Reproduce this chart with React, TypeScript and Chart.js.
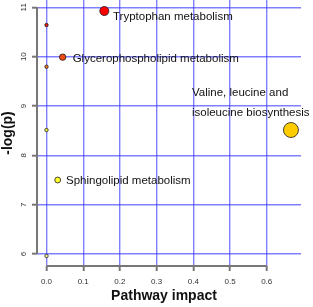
import React, { useEffect, useRef } from "react";
import { Chart, registerables } from "chart.js";

Chart.register(...registerables);

// Data
const impact = [0.1575, 0, 0.044, 0, 0, 0.666, 0.0305, 0];
const logP = [10.925, 10.64, 9.99, 9.796, 8.513, 8.513, 7.5, 5.96];
const pathwayNames = [
  "Tryptophan metabolism",
  "",
  "Glycerophospholipid metabolism",
  "",
  "",
  "Valine, leucine and\nisoleucine biosynthesis",
  "Sphingolipid metabolism",
  "",
];
const xTickValues = [0, 0.1, 0.2, 0.3, 0.4, 0.5, 0.6];
const yTickValues = [6, 7, 8, 9, 10, 11];
const xTitle = "Pathway impact";
const yTitle = "-log(p)";

// Styles
const fillColors = ["#FF0000", "#F21C0E", "#F04A12", "#EE7A1E", "#FFFF3C", "#FFCC00", "#FFFF30", "#FFFFA8"];
const labelOffsets: (number[] | null)[] = [[8.7, 8.5], null, [10, 5], null, null, [-99, -34.3], [8.3, 4.3], null];
const FONT = "'Liberation Sans', Arial, sans-serif";

const decorPlugin = {
  id: "decor",
  beforeDatasetsDraw(chart: any) {
    const { ctx, chartArea, scales } = chart;
    const x = scales.x;
    const y = scales.y;
    ctx.save();
    ctx.strokeStyle = "#777777";
    ctx.lineWidth = 2;
    ctx.beginPath();
    ctx.moveTo(chartArea.left, y.getPixelForValue(yTickValues[0]));
    ctx.lineTo(chartArea.left, y.getPixelForValue(yTickValues[yTickValues.length - 1]));
    ctx.moveTo(x.getPixelForValue(xTickValues[0]), chartArea.bottom);
    ctx.lineTo(x.getPixelForValue(xTickValues[xTickValues.length - 1]), chartArea.bottom);
    ctx.stroke();
    // x axis title
    ctx.fillStyle = "#111111";
    ctx.font = `bold 14px ${FONT}`;
    ctx.textAlign = "center";
    ctx.textBaseline = "middle";
    ctx.fillText(xTitle, (chartArea.left + chartArea.right) / 2 - 5, 296);
    ctx.restore();
  },
  afterDatasetsDraw(chart: any) {
    const { ctx, scales } = chart;
    ctx.save();
    ctx.fillStyle = "#111111";
    ctx.font = `11.5px ${FONT}`;
    ctx.textAlign = "left";
    ctx.textBaseline = "alphabetic";
    pathwayNames.forEach((name, i) => {
      const off = labelOffsets[i];
      if (!name || !off) return;
      const px = scales.x.getPixelForValue(impact[i]);
      const py = scales.y.getPixelForValue(logP[i]);
      name.split("\n").forEach((line, k) => {
        ctx.fillText(line, px + off[0], py + off[1] + k * 20.6);
      });
    });
    ctx.restore();
  },
};

export default function App() {
  const ref = useRef<HTMLCanvasElement>(null);
  useEffect(() => {
    if (!ref.current) return;
    const chart = new Chart(ref.current, {
      type: "scatter",
      data: {
        datasets: [
          {
            data: impact.map((v, i) => ({ x: v, y: logP[i] })),
            pointRadius: impact.map((v) => 1.7 + 7.1 * Math.sqrt(v)),
            pointBackgroundColor: fillColors,
            pointBorderColor: "#1a1a1a",
            pointBorderWidth: 0.8,
            clip: false,
          },
        ],
      },
      options: {
        responsive: false,
        animation: false,
        layout: { autoPadding: false, padding: { top: 0, right: 12, left: 0, bottom: 0 } },
        plugins: { legend: { display: false }, tooltip: { enabled: false } },
        scales: {
          x: {
            type: "linear",
            min: -0.0259,
            max: 0.6934,
            afterBuildTicks: (s: any) => {
              s.ticks = xTickValues.map((v) => ({ value: v }));
            },
            afterFit: (s: any) => {
              s.height = 41;
              s.paddingLeft = 0;
              s.paddingRight = 0;
            },
            grid: {
              color: "rgba(60,60,255,0.65)",
              lineWidth: 1.4,
              drawTicks: true,
              tickLength: 5,
              tickColor: "#777777",
              tickWidth: 2,
            },
            border: { display: false },
            ticks: {
              autoSkip: false,
              maxRotation: 0,
              padding: 6,
              color: "#333333",
              font: { family: FONT, size: 8 },
              callback: (v: any) => Number(v).toFixed(1),
            },
            title: { display: false },
          },
          y: {
            type: "linear",
            min: 5.757,
            max: 11.148,
            afterBuildTicks: (s: any) => {
              s.ticks = yTickValues.map((v) => ({ value: v }));
            },
            afterFit: (s: any) => {
              s.width = 37;
              s.paddingTop = 0;
              s.paddingBottom = 0;
            },
            grid: {
              color: "rgba(60,60,255,0.65)",
              lineWidth: 1.4,
              drawTicks: true,
              tickLength: 5,
              tickColor: "#777777",
              tickWidth: 2,
            },
            border: { display: false },
            ticks: {
              autoSkip: false,
              minRotation: 90,
              maxRotation: 90,
              crossAlign: "center",
              padding: 3.5,
              color: "#333333",
              font: { family: FONT, size: 8 },
              callback: (v: any) => String(v),
            },
            title: {
              display: true,
              text: yTitle,
              color: "#111111",
              font: { family: FONT, size: 14, weight: "bold" },
              padding: { top: 0, bottom: 0 },
            },
          },
        },
      },
      plugins: [decorPlugin],
    } as any);
    return () => chart.destroy();
  }, []);
  return (
    <canvas
      ref={ref}
      width={313}
      height={307}
      style={{ position: "fixed", left: 0, top: 0, width: 313, height: 307, display: "block" }}
    />
  );
}
